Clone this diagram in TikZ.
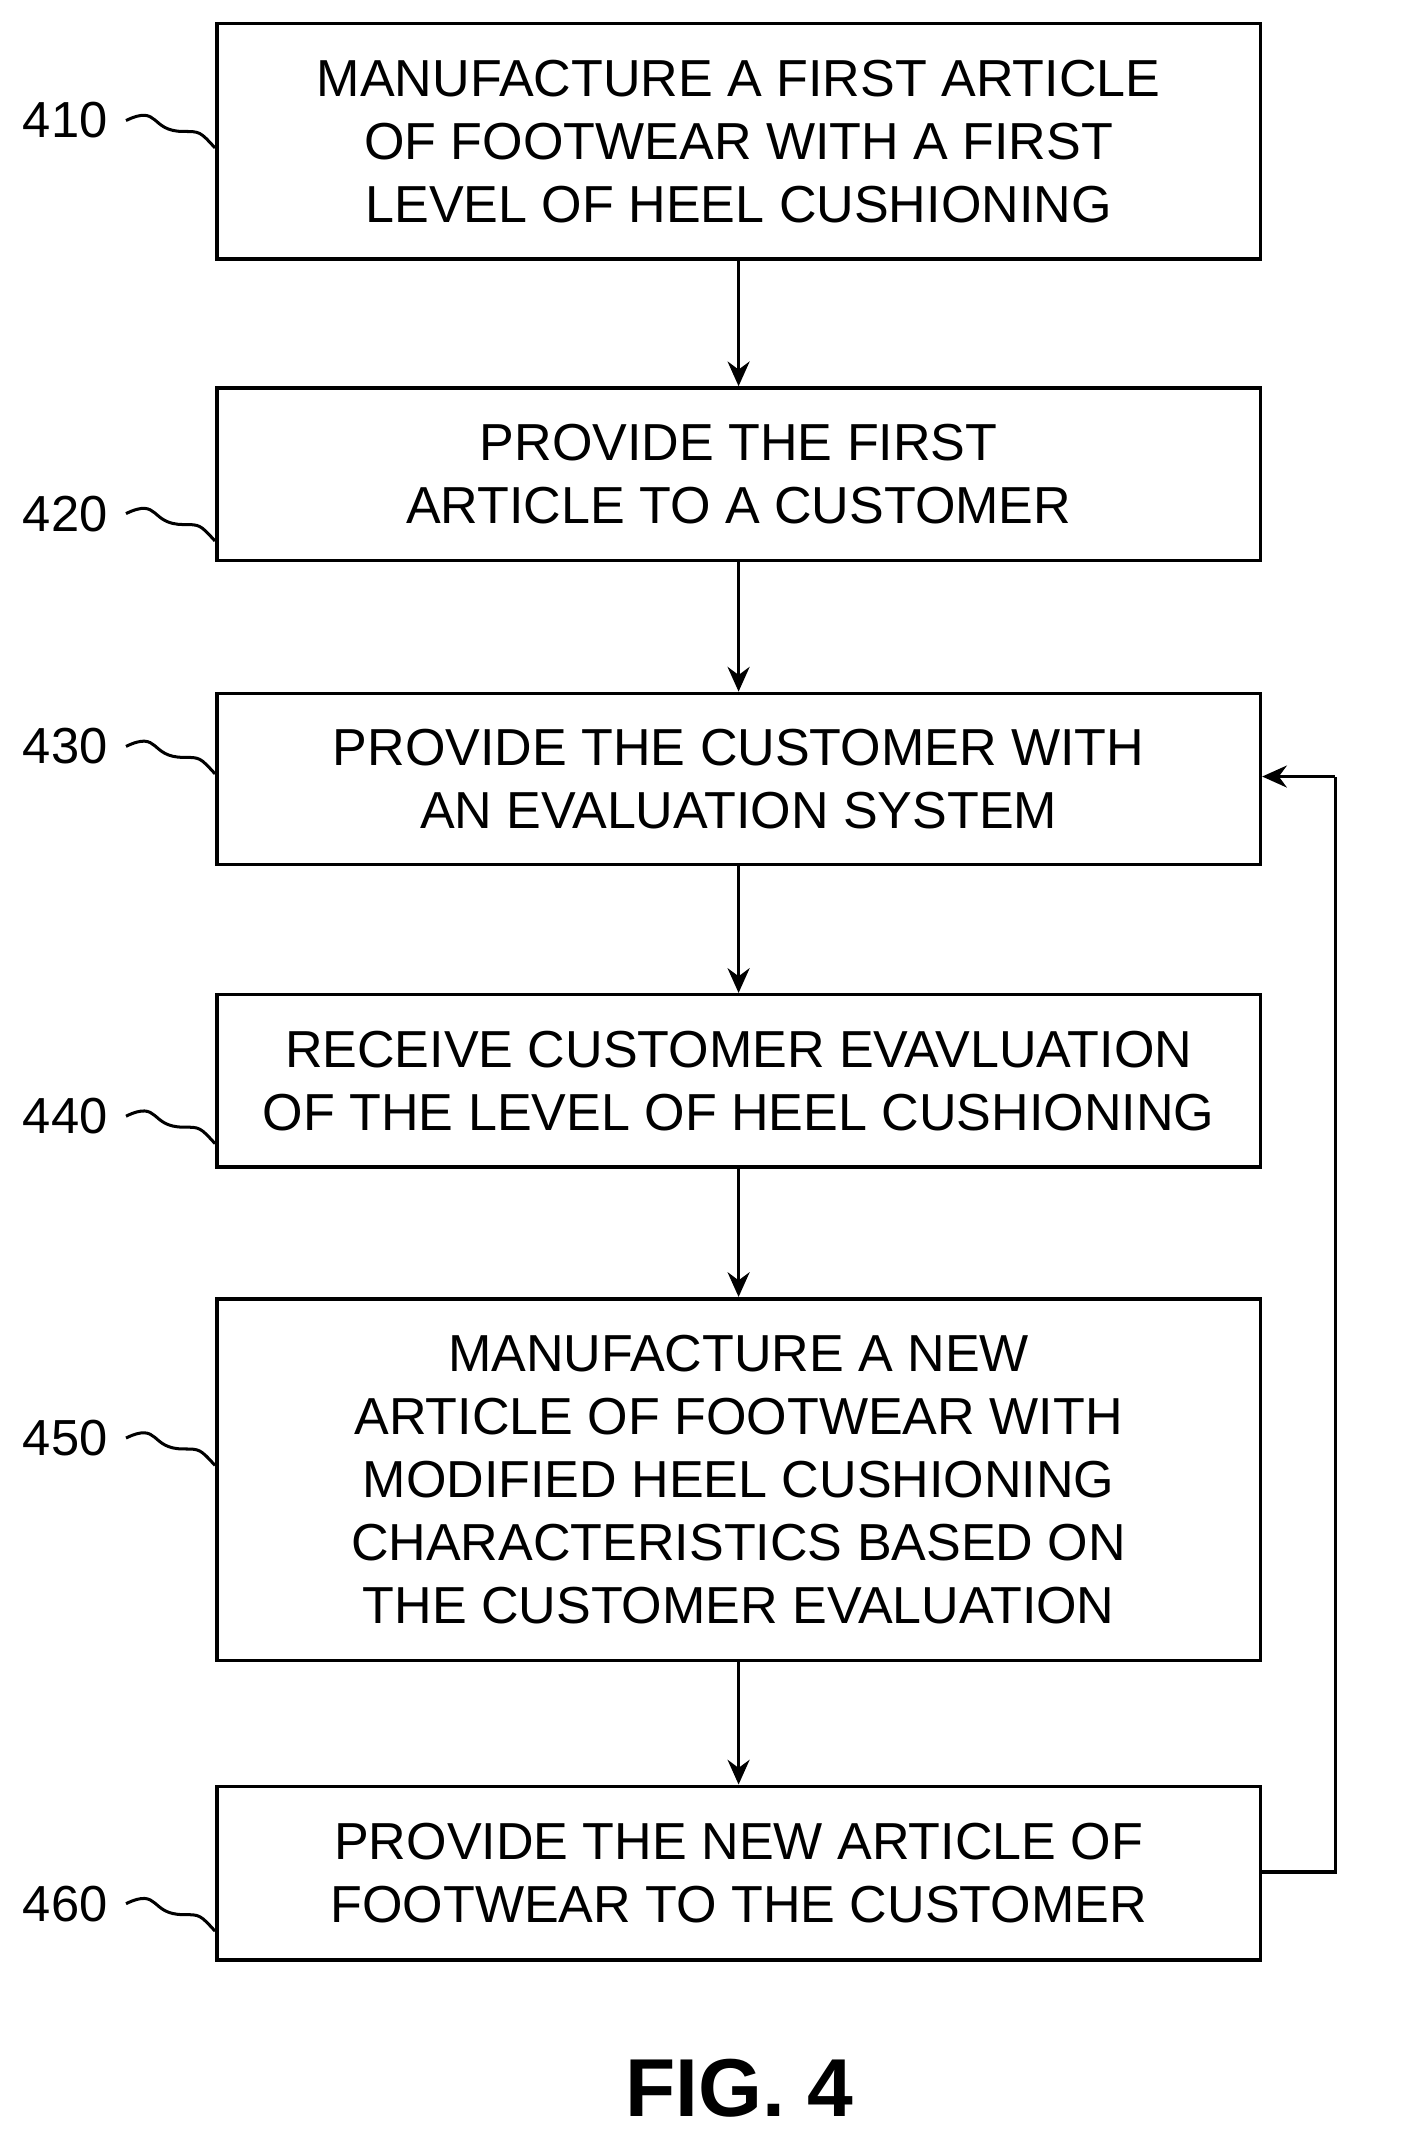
\documentclass[tikz,border=0pt]{standalone}
\usepackage{fontspec}
\setmainfont{Liberation Sans}
\usetikzlibrary{arrows.meta}
\begin{document}
\begin{tikzpicture}[x=1pt,y=-1pt,
  box/.style={draw,line width=2.6pt,minimum width=762pt,anchor=north west,align=center,font=\fontsize{38}{46}\selectfont,inner sep=0pt},
  lab/.style={font=\fontsize{37}{40}\selectfont},
  arr/.style={line width=2.6pt,-{Stealth[length=18pt,width=16pt]}},
  lead/.style={line width=2.2pt}]
\useasboundingbox (0,0) rectangle (1024,1556);
\node[box,minimum height=172pt] (b1) at (157,16) {MANUFACTURE A FIRST ARTICLE\\OF FOOTWEAR WITH A FIRST\\LEVEL OF HEEL CUSHIONING};
\node[box,minimum height=126pt] (b2) at (157,282) {PROVIDE THE FIRST\\ARTICLE TO A CUSTOMER};
\node[box,minimum height=125pt] (b3) at (157,505) {PROVIDE THE CUSTOMER WITH\\AN EVALUATION SYSTEM};
\node[box,minimum height=126pt] (b4) at (157,725) {RECEIVE CUSTOMER EVAVLUATION\\OF THE LEVEL OF HEEL CUSHIONING};
\node[box,minimum height=264pt] (b5) at (157,947) {MANUFACTURE A NEW\\ARTICLE OF FOOTWEAR WITH\\MODIFIED HEEL CUSHIONING\\CHARACTERISTICS BASED ON\\THE CUSTOMER EVALUATION};
\node[box,minimum height=127pt] (b6) at (157,1303) {PROVIDE THE NEW ARTICLE OF\\FOOTWEAR TO THE CUSTOMER};
\foreach \a/\b in {b1/b2,b2/b3,b3/b4,b4/b5,b5/b6} \draw[arr] (\a.south) -- (\b.north);
\coordinate (c1) at (975,1367);
\coordinate (c2) at (975,567);
\draw[line width=2.6pt] (b6.east |- c1) -- (c1) -- (c2);
\draw[arr] (c2) -- (b3.east |- c2);
\foreach \n/\t/\y in {l1/410/88,l2/420/375,l3/430/545,l4/440/815,l5/450/1050,l6/460/1390}{
  \node[lab,anchor=east] (\n) at (82,\y) {\t};
  \draw[lead] (\n.east) ++(10,0) .. controls +(25,-12) and +(-25,0) .. +(42,8) .. controls +(12,0) .. +(65,20);
}
\node[font=\bfseries\fontsize{60}{62}\selectfont] (fig) at (540,1525) {FIG. 4};
\end{tikzpicture}
\end{document}
